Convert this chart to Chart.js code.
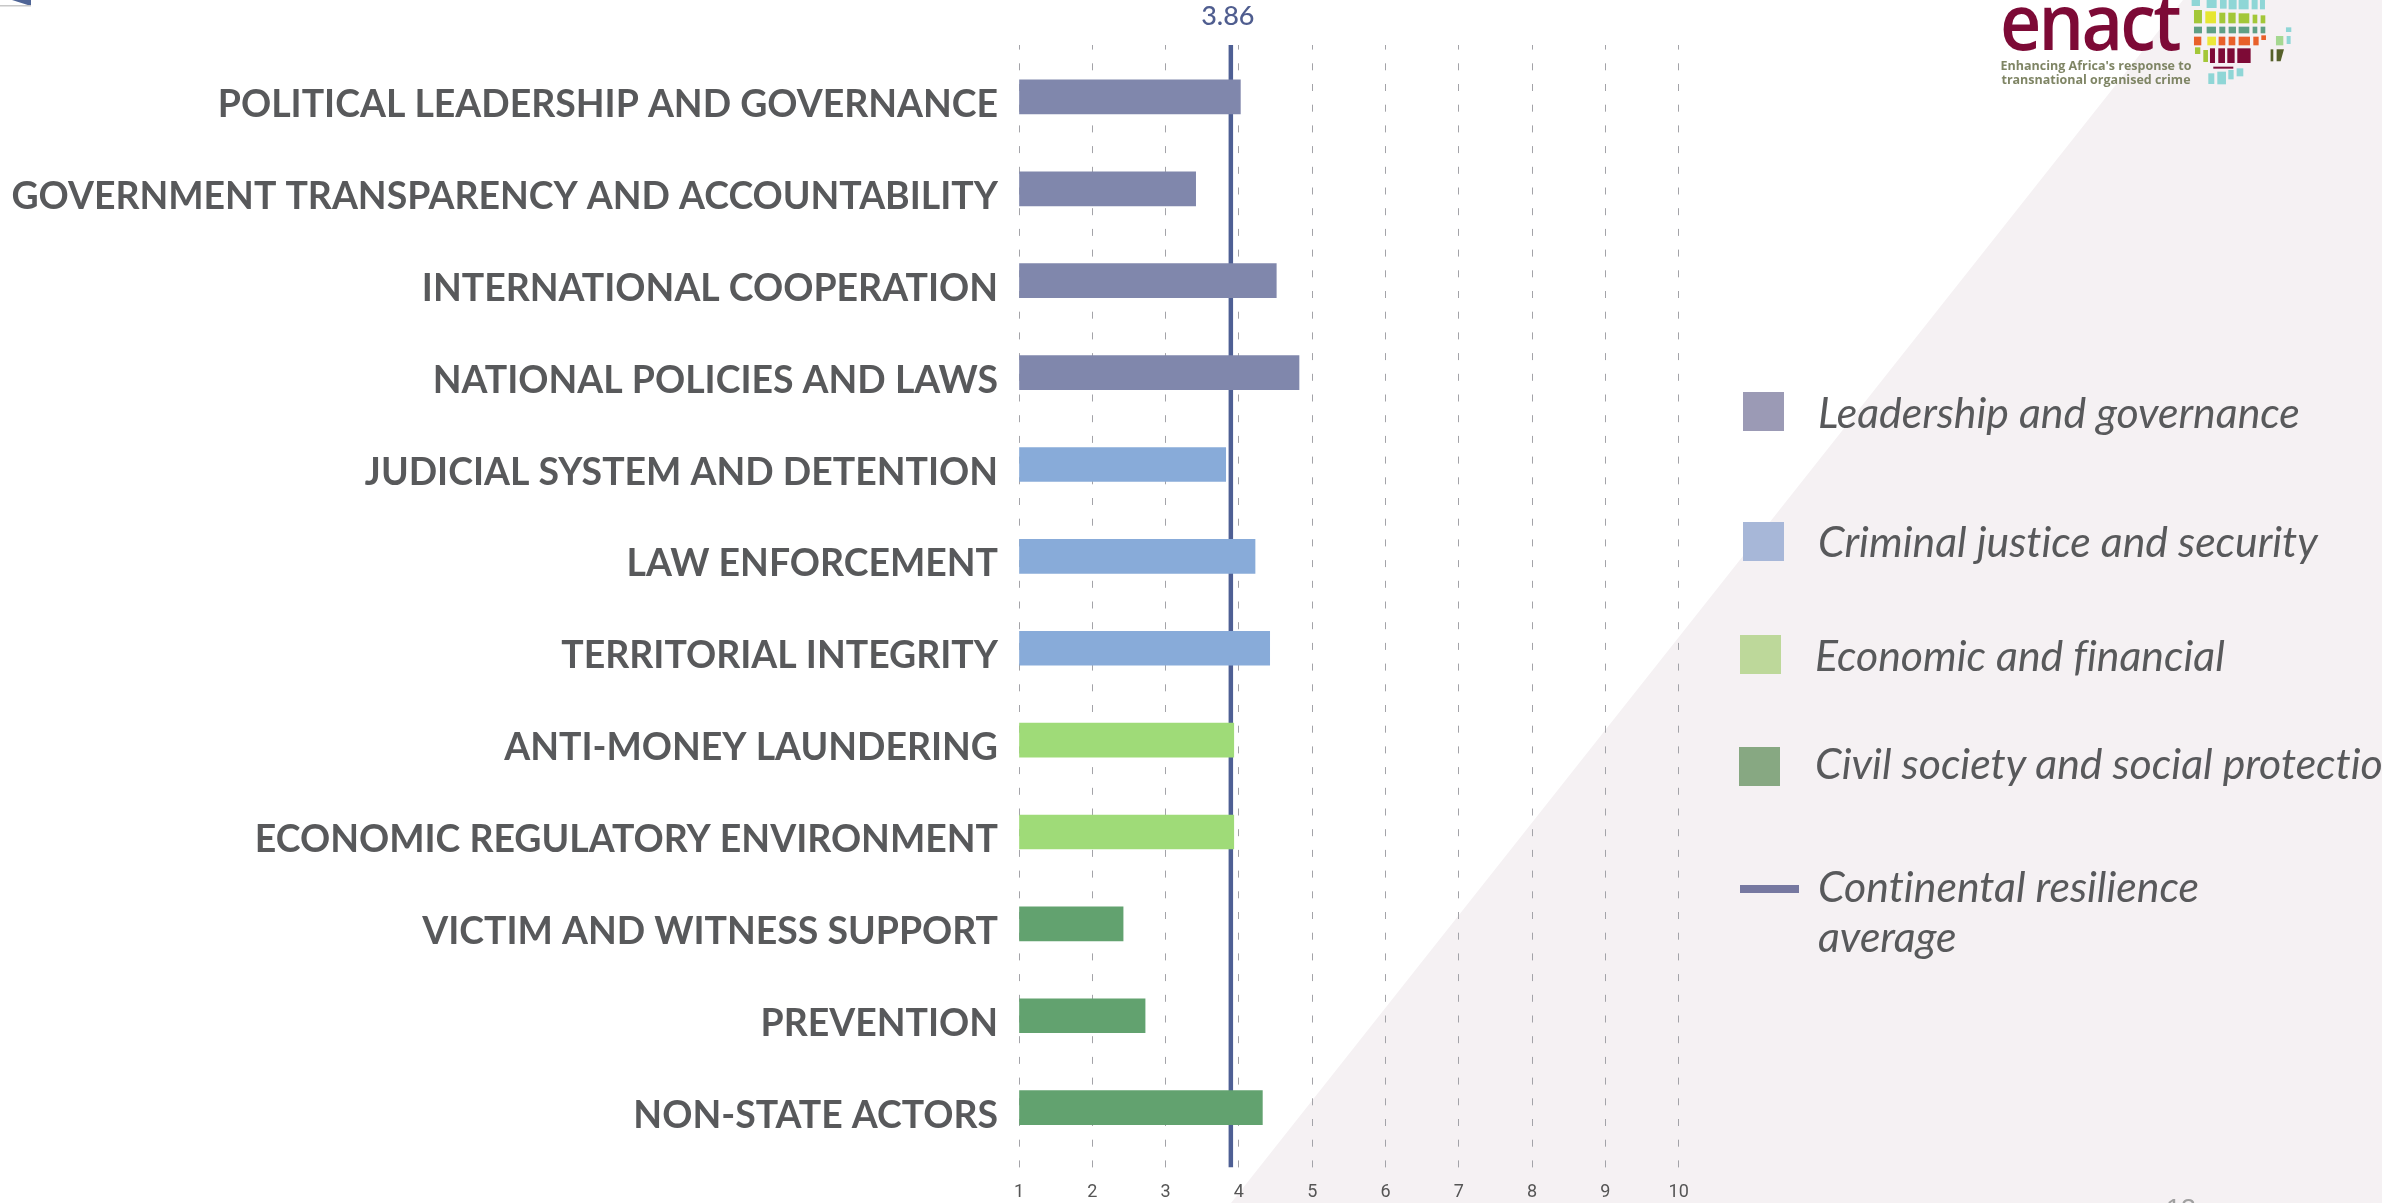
<!DOCTYPE html>
<html>
<head>
<meta charset="utf-8">
<script src="https://cdn.jsdelivr.net/npm/chart.js@4/dist/chart.umd.min.js"></script>
<style>
html,body{margin:0;padding:0;width:2382px;height:1203px;overflow:hidden;background:#fff;}
#stage{position:relative;width:2382px;height:1203px;overflow:hidden;font-family:Lato,sans-serif;font-variant-ligatures:none;}
#tri{position:absolute;inset:0;background:#f5f1f3;clip-path:polygon(2183px 0,2382px 0,2382px 1203px,1231px 1203px);}
canvas{position:absolute;left:0;top:0;font-variant-ligatures:none;}
.sw{position:absolute;width:41px;height:39px;}
.lg{position:absolute;font-style:italic;font-size:42.8px;line-height:50px;color:#58595b;white-space:nowrap;}
#corner{position:absolute;left:0;top:0;}
#logo{position:absolute;left:0;top:0;}
#enact{position:absolute;left:2000px;top:-30px;font-family:"Open Sans";font-weight:600;font-size:78px;line-height:100px;color:#7d0a36;letter-spacing:-3px;transform:scaleX(0.92);transform-origin:left top;}
.tag{position:absolute;font-family:"Open Sans";font-weight:700;font-size:12.5px;line-height:14px;color:#7f8565;white-space:nowrap;text-align:center;left:2000px;width:192px;}
#page{position:absolute;left:2166px;top:1193px;font-family:"Liberation Sans";font-size:27px;line-height:32px;color:#a0a0a0;}
</style>
</head>
<body>
<div id="stage">
  <div id="tri"></div>
  <svg id="corner" width="40" height="10"><polygon points="12,0 31,0 31,6" fill="#4f6596"/><rect x="0" y="5" width="31" height="1.5" fill="#c8c8c8"/></svg>
  <canvas id="c" width="2382" height="1203"></canvas>

  <div class="sw" style="left:1743px;top:392px;background:#9b9ab5"></div>
  <div class="lg" style="left:1818px;top:387px">Leadership and governance</div>
  <div class="sw" style="left:1743px;top:522px;background:#a7b7d8"></div>
  <div class="lg" style="left:1818px;top:516px">Criminal justice and security</div>
  <div class="sw" style="left:1740px;top:635px;background:#bdd89a"></div>
  <div class="lg" style="left:1815px;top:630px">Economic and financial</div>
  <div class="sw" style="left:1739px;top:747px;background:#87a882"></div>
  <div class="lg" style="left:1815px;top:738px">Civil society and social protection</div>
  <div style="position:absolute;left:1740px;top:885px;width:59px;height:8px;background:#7678a0"></div>
  <div class="lg" style="left:1818px;top:861px">Continental resilience<br>average</div>

  <div id="enact">enact</div>
  <div class="tag" style="top:59px">Enhancing Africa's response to</div>
  <div class="tag" style="top:73px">transnational organised crime</div>
  <svg id="logo" width="2382" height="100" style="pointer-events:none">
    <g transform="translate(1950,0) scale(0.3333)">
      <g fill="#8fd6d6"><rect x="725" y="0" width="25" height="18"/><rect x="770" y="0" width="30" height="24"/><rect x="810" y="0" width="20" height="26"/><rect x="836" y="0" width="24" height="28"/><rect x="866" y="0" width="30" height="28"/><rect x="905" y="0" width="18" height="28"/><rect x="930" y="0" width="15" height="28"/><rect x="1008" y="82" width="16" height="14"/><rect x="1010" y="108" width="12" height="24"/></g>
      <g fill="#a3c738"><rect x="732" y="30" width="24" height="40"/><rect x="808" y="38" width="18" height="32"/><rect x="835" y="38" width="22" height="32"/><rect x="866" y="40" width="32" height="30"/><rect x="908" y="44" width="14" height="26"/><rect x="932" y="46" width="14" height="24"/><rect x="735" y="142" width="16" height="20"/><rect x="760" y="150" width="14" height="36"/></g>
      <rect x="766" y="34" width="32" height="36" fill="#e6e632"/>
      <g fill="#5f9f85"><rect x="732" y="80" width="24" height="20"/><rect x="770" y="80" width="28" height="20"/><rect x="808" y="80" width="18" height="20"/><rect x="836" y="80" width="22" height="20"/><rect x="866" y="80" width="32" height="20"/><rect x="908" y="80" width="14" height="20"/><rect x="932" y="80" width="14" height="20"/></g>
      <g fill="#e8602a"><rect x="732" y="110" width="22" height="26"/><rect x="806" y="110" width="20" height="26"/><rect x="836" y="110" width="20" height="26"/><rect x="866" y="110" width="34" height="26"/><rect x="910" y="110" width="16" height="26"/><rect x="934" y="106" width="14" height="14"/></g>
      <rect x="772" y="110" width="26" height="26" fill="#ece83a"/>
      <g fill="#7d0a36"><rect x="780" y="145" width="15" height="44"/><rect x="805" y="145" width="20" height="44"/><rect x="832" y="145" width="22" height="44"/><rect x="862" y="145" width="40" height="44"/><rect x="790" y="200" width="60" height="6"/></g>
      <g fill="#8fd6d6"><rect x="775" y="220" width="18" height="32"/><rect x="802" y="215" width="26" height="38"/><rect x="835" y="210" width="16" height="28"/><rect x="860" y="205" width="20" height="24"/></g>
      <rect x="978" y="108" width="22" height="28" fill="#a5d890"/>
      <rect x="962" y="148" width="8" height="36" fill="#56602a"/><polygon points="980,148 1002,148 992,184 980,184" fill="#56602a"/>
    </g>
  </svg>
  <div id="page">13</div>
</div>
<script>
const categories = ["POLITICAL LEADERSHIP AND GOVERNANCE","GOVERNMENT TRANSPARENCY AND ACCOUNTABILITY","INTERNATIONAL COOPERATION","NATIONAL POLICIES AND LAWS","JUDICIAL SYSTEM AND DETENTION","LAW ENFORCEMENT","TERRITORIAL INTEGRITY","ANTI-MONEY LAUNDERING","ECONOMIC REGULATORY ENVIRONMENT","VICTIM AND WITNESS SUPPORT","PREVENTION","NON-STATE ACTORS"];
const leadershipValues = [4.02,3.41,4.51,4.82];
const criminalValues = [3.82,4.22,4.42];
const economicValues = [3.93,3.93];
const civilValues = [2.42,2.72,4.32];
const xTickLabels = [1,2,3,4,5,6,7,8,9,10];
const averageValue = 3.89;
const averageLabel = "3.86";

function rows(values, start){ return values.map((v,i)=>({x:v,y:start+i})); }
function barSet(label, values, start, color){
  return {type:'bar',label,data:rows(values,start),backgroundColor:color,barThickness:34,grouped:false,order:1,base:1};
}
const avgLabelPlugin = {
  id:'avgLabel',
  afterDraw(chart){
    const {ctx,scales:{x}} = chart;
    ctx.save();
    ctx.font = '500 27px Lato';
    ctx.fillStyle = '#4f5d8f';
    ctx.textAlign = 'center';
    ctx.textBaseline = 'middle';
    ctx.fillText(averageLabel, x.getPixelForValue(averageValue)-3, 16);
    ctx.restore();
  }
};
new Chart(document.getElementById('c'),{
  data:{datasets:[
    barSet('Leadership and governance',leadershipValues,0,'#8087ac'),
    barSet('Criminal justice and security',criminalValues,4,'#88abd9'),
    barSet('Economic and financial',economicValues,7,'#9fdb78'),
    barSet('Civil society and social protection',civilValues,9,'#62a26f'),
    {type:'line',label:'Continental resilience average',
     data:[{x:averageValue,y:-0.565},{x:averageValue,y:11.652}],
     borderColor:'#4e5f94',borderWidth:4.5,pointRadius:0,order:10,parsing:{xAxisKey:'x',yAxisKey:'y'}}
  ]},
  plugins:[avgLabelPlugin],
  options:{
    indexAxis:'y',responsive:false,animation:false,
    layout:{padding:{top:45,right:703.3,left:0,bottom:0}},
    plugins:{legend:{display:false},tooltip:{enabled:false}},
    scales:{
      x:{type:'linear',min:1,max:10,
        grid:{color:'#a3a3a8',lineWidth:1,drawTicks:false},
        border:{display:false,dash:[7,13.7],dashOffset:2.4},
        ticks:{stepSize:1,font:{family:'Roboto',size:18},color:'#555',padding:14,maxRotation:0,
               callback:(v)=>xTickLabels.includes(v)?String(v):''},
        afterFit(s){s.height=34;}
      },
      y:{type:'linear',reverse:true,offset:false,min:-0.565,max:11.652,
        grid:{display:false},border:{display:false},
        afterBuildTicks(s){s.ticks=categories.map((_,i)=>({value:i}));},
        ticks:{autoSkip:false,font:{family:'Lato',size:37.4,weight:'700'},color:'#58595b',padding:13,labelOffset:8,
               callback:(v)=>categories[v]},
        afterFit(s){s.width=1019;}
      }
    }
  }
});
</script>
</body>
</html>
